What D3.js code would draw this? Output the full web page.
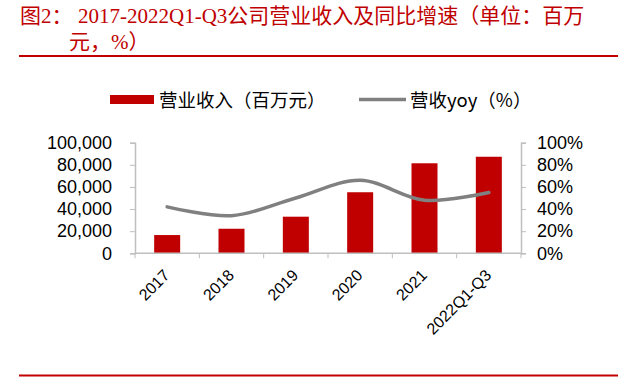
<!DOCTYPE html>
<html><head><meta charset="utf-8">
<script src="https://cdn.jsdelivr.net/npm/d3@7"></script>
<style>body{margin:0;background:#fff}</style>
</head><body>
<script>
const categories = ["2017","2018","2019","2020","2021","2022Q1-Q3"];
const revenue = [16500, 22200, 33100, 55200, 81400, 87300];
const yoy = [42, 34, 50, 66, 48, 55];
const leftTicks = [0,20000,40000,60000,80000,100000];
const rightTicks = [0,20,40,60,80,100];
const titleParts = ["图2：", "2017-2022Q1-Q3公司营业收入及同比增速（单位：百万", "元，%）"];
const legendLabels = ["营业收入（百万元）", "营收yoy（%）"];

const W = 618, H = 381;
const svg = d3.select("body").append("svg").attr("width", W).attr("height", H);
const red = "#c00000", gray = "#808080", axisCol = "#bfbfbf";
const latin = "'Liberation Sans', Arial, 'Noto Sans CJK SC', sans-serif";
const cjk = "'Noto Sans CJK SC', sans-serif";

// title
const t = svg.append("text").attr("fill", red).attr("font-size", 21)
  .attr("font-family", "'Liberation Serif', 'Noto Sans CJK SC', serif");
t.append("tspan").attr("x", 20).attr("y", 23).text(titleParts[0]);
t.append("tspan").attr("x", 78).attr("y", 23).text(titleParts[1]);
t.append("tspan").attr("x", 69).attr("y", 49).text(titleParts[2]);
svg.append("line").attr("x1", 19).attr("x2", 618).attr("y1", 56).attr("y2", 56).attr("stroke", red).attr("stroke-width", 2);
svg.append("line").attr("x1", 19).attr("x2", 618).attr("y1", 375.5).attr("y2", 375.5).attr("stroke", red).attr("stroke-width", 2);

const x0 = 135, x1 = 521, yTop = 142.7, yBot = 253.3;
const xc = d3.scalePoint().domain(categories).range([x0, x1]).padding(0.5);
const yL = d3.scaleLinear().domain([0, 100000]).range([yBot, yTop]);
const yR = d3.scaleLinear().domain([0, 100]).range([yBot, yTop]);

// bars
svg.selectAll("rect.bar").data(revenue).join("rect").attr("class","bar")
  .attr("x", (d,i) => xc(categories[i]) - 13).attr("width", 26)
  .attr("y", d => yL(d)).attr("height", d => yBot - yL(d)).attr("fill", red);

// line
const line = d3.line().x((d,i) => xc(categories[i])).y(d => yR(d)).curve(d3.curveCatmullRom.alpha(0.5));
svg.append("path").attr("d", line(yoy)).attr("fill","none").attr("stroke", gray).attr("stroke-width", 3.5).attr("stroke-linecap","round");

// left axis
const gL = svg.append("g").attr("transform", `translate(${x0},0)`)
  .call(d3.axisLeft(yL).tickValues(leftTicks).tickSize(5).tickPadding(18).tickFormat(d3.format(",")));
// right axis
const gR = svg.append("g").attr("transform", `translate(${x1},0)`)
  .call(d3.axisRight(yR).tickValues(rightTicks).tickSize(5).tickPadding(11).tickFormat(d => d + "%"));
// x axis
const step = (x1 - x0) / categories.length;
const gX = svg.append("g").attr("transform", `translate(0,${yBot})`)
  .call(d3.axisBottom(xc).tickSize(0).tickPadding(0));
gX.selectAll(".tick line").remove();
d3.range(categories.length + 1).forEach(i => {
  gX.append("line").attr("x1", x0 + i*step).attr("x2", x0 + i*step).attr("y1", 0).attr("y2", 5).attr("stroke", axisCol);
});
[gL, gR].forEach(g => g.selectAll("text").attr("font-size", 18));
[gL, gR, gX].forEach(g => {
  g.select(".domain").attr("stroke", axisCol).attr("stroke-width", 1.5);
  g.selectAll(".tick line").attr("stroke", axisCol);
  g.selectAll("text").attr("font-family", latin).attr("fill", "#000");
});
gX.selectAll("text").attr("font-size", 16);
gX.select(".domain").attr("d", `M${x0},0H${x1}`);
gX.selectAll(".tick text").attr("text-anchor", "end").attr("dy", 0)
  .attr("transform", "translate(3,23) rotate(-45)");

// legend
svg.append("rect").attr("x", 110).attr("y", 95).attr("width", 44).attr("height", 9).attr("fill", red);
svg.append("text").attr("x", 159).attr("y", 106.5).attr("font-family", cjk).attr("font-size", 18.5).attr("fill","#000").text(legendLabels[0]);
svg.append("line").attr("x1", 359).attr("x2", 406).attr("y1", 99.5).attr("y2", 99.5).attr("stroke", gray).attr("stroke-width", 3.5);
svg.append("text").attr("x", 410).attr("y", 106.5).attr("font-family", cjk).attr("font-size", 18.5).attr("fill","#000").text(legendLabels[1]);
</script>
</body></html>
